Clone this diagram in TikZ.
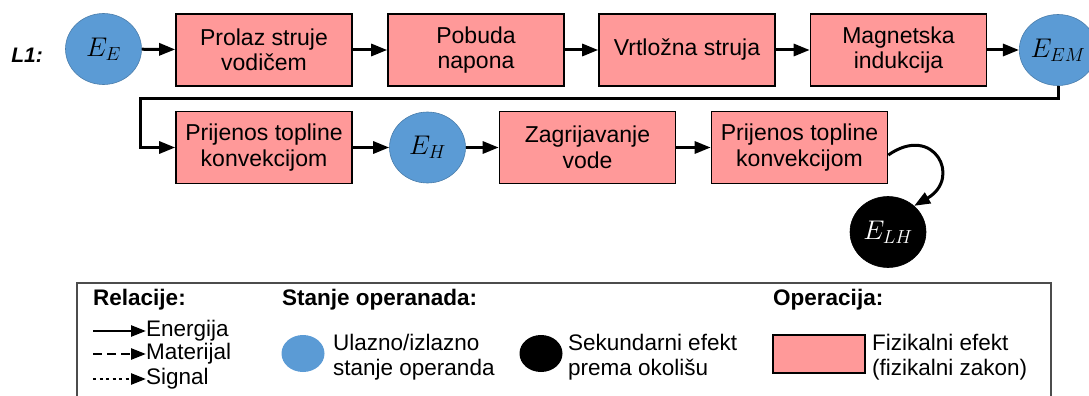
\RequirePackage{fix-cm}
\documentclass[tikz,border=0pt]{standalone}
\usepackage{fontspec}
\setmainfont{Liberation Sans}
\usepackage{tikz}
\usetikzlibrary{arrows.meta,shapes.geometric}

\definecolor{opblue}{RGB}{91,155,213}
\definecolor{effpink}{RGB}{255,153,153}

\begin{document}
\begin{tikzpicture}[x=1pt, y=1pt,
    effect/.style={draw=black, line width=1.6pt, fill=effpink, minimum width=176pt, minimum height=72pt, align=center, inner sep=2pt, font=\fontsize{23}{25.5}\selectfont},
    state/.style={ellipse, fill=opblue, draw=opblue!80!black, line width=0.6pt, minimum width=76pt, minimum height=71pt, inner sep=0pt, font=\fontsize{27}{30}\selectfont},
    side/.style={state, fill=black, draw=black, text=white},
    flow/.style={line width=3pt, -{Triangle[length=16pt, width=12pt]}},
    legflow/.style={line width=2.6pt, -{Triangle[length=15pt, width=11pt]}},
    legtext/.style={anchor=west, align=left, inner sep=0pt, font=\fontsize{22.5}{25}\selectfont},
    leghead/.style={legtext, font=\fontsize{22.5}{25}\selectfont\bfseries}]
    \clip (0,0) rectangle (1089,-396);

    % Row 1
    \node (L1) at (27,-55) {\fontsize{21}{24}\selectfont\bfseries\itshape L1:};
    \node[state] (EE) at (103.5,-49) {$E_E$};
    \node[effect] (prolaz) at (264,-50) {Prolaz struje\\vodičem};
    \node[effect] (pobuda) at (476,-50) {Pobuda\\napona};
    \node[effect] (vrtlog) at (687,-50) {Vrtložna struja};
    \node[effect] (magnet) at (898.5,-50) {Magnetska\\indukcija};
    \node[state] (EEM) at (1058,-50) {$E_{EM}$};

    % Row 2
    \node[effect] (konv1) at (264,-147.5) {Prijenos topline\\konvekcijom};
    \node[state] (EH) at (427.5,-147.5) {$E_H$};
    \node[effect] (zagr) at (587.5,-147.5) {Zagrijavanje\\vode};
    \node[effect] (konv2) at (799.5,-147.5) {Prijenos topline\\konvekcijom};
    \node[side] (ELH) at (888,-232) {$E_{LH}$};

    % Arrows
    \foreach \a/\b in {EE/prolaz, prolaz/pobuda, pobuda/vrtlog, vrtlog/magnet, magnet/EEM, konv1/EH, EH/zagr, zagr/konv2} {
        \draw[flow] (\a) -- (\b);
    }
    \coordinate (turn) at (140,-98);
    \draw[flow] (EEM.south) |- (turn) |- (konv1.west);
    \draw[flow] ([yshift=-7.5pt]konv2.east) to[out=35, in=30, looseness=2.5] (ELH.45);

    % Legend
    \draw[black!70, line width=1.3pt] (77,-283) rectangle (1051,-402);
    \node[leghead] (rel) at (93,-300) {Relacije:};
    \node[legtext] (energ) at (146,-331) {Energija};
    \node[legtext] (mater) at (146,-354) {Materijal};
    \node[legtext] (sig) at (146,-379) {Signal};
    \draw[legflow] ([xshift=-53pt]energ.west) -- (energ.west);
    \draw[legflow, dash pattern=on 9pt off 5pt] ([xshift=-53pt]mater.west) -- (mater.west);
    \draw[legflow, dash pattern=on 3pt off 3.5pt] ([xshift=-53pt]sig.west) -- (sig.west);

    \node[leghead] (stanje) at (282,-300) {Stanje operanada:};
    \node[ellipse, fill=opblue, minimum width=43pt, minimum height=37pt, inner sep=0pt] (keyin) at (303,-353.5) {};
    \node[legtext] (keyintext) at (333,-357) {Ulazno/izlazno\\stanje operanda};
    \node[ellipse, fill=black, minimum width=43pt, minimum height=37pt, inner sep=0pt] (keyside) at (541,-353.5) {};
    \node[legtext] (keysidetext) at (568,-357) {Sekundarni efekt\\prema okolišu};

    \node[leghead] (oper) at (773,-300) {Operacija:};
    \node[draw=black, line width=1.6pt, fill=effpink, minimum width=92pt, minimum height=38pt] (keyop) at (819,-354) {};
    \node[legtext] (keyoptext) at (872,-357) {Fizikalni efekt\\(fizikalni zakon)};
\end{tikzpicture}
\end{document}
